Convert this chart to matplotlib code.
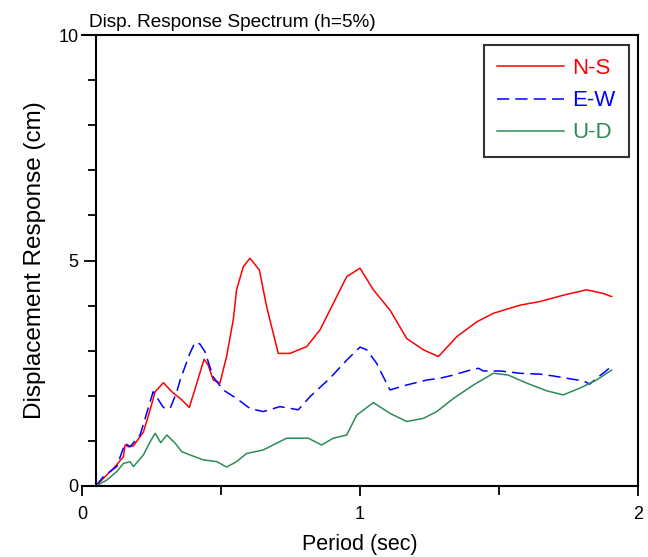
import matplotlib
matplotlib.use("Agg")
import matplotlib.pyplot as plt
from matplotlib.ticker import FixedLocator

plt.rcParams['font.family'] = ['Liberation Sans', 'DejaVu Sans']

# Period (sec) and displacement response (cm)
ns_t = [0.05, 0.077, 0.119, 0.149, 0.155, 0.167, 0.185, 0.221, 0.245, 0.263, 0.293,
        0.323, 0.359, 0.386, 0.413, 0.439, 0.454, 0.472, 0.496, 0.52, 0.544, 0.556,
        0.58, 0.604, 0.638, 0.664, 0.706, 0.748, 0.808, 0.856, 0.904, 0.952, 1.0,
        1.048, 1.108, 1.168, 1.228, 1.282, 1.348, 1.42, 1.48, 1.576, 1.647, 1.731,
        1.815, 1.875, 1.905]
ns_d = [0.0, 0.17, 0.43, 0.65, 0.91, 0.87, 0.89, 1.2, 1.69, 2.09, 2.29,
        2.09, 1.91, 1.74, 2.28, 2.81, 2.68, 2.35, 2.28, 2.87, 3.68, 4.35,
        4.86, 5.05, 4.79, 3.98, 2.94, 2.94, 3.09, 3.46, 4.05, 4.64, 4.83,
        4.35, 3.9, 3.27, 3.02, 2.87, 3.31, 3.64, 3.83, 4.01, 4.09, 4.23,
        4.35, 4.27, 4.2]

ew_t = [0.05, 0.077, 0.125, 0.155, 0.173, 0.209, 0.256, 0.293, 0.317, 0.341, 0.353,
        0.388, 0.406, 0.424, 0.442, 0.472, 0.508, 0.556, 0.604, 0.652, 0.712,
        0.778, 0.82, 0.892, 0.952, 1.0, 1.024, 1.06, 1.084, 1.108, 1.168, 1.24,
        1.288, 1.336, 1.396, 1.426, 1.444, 1.504, 1.576, 1.647, 1.695, 1.743,
        1.803, 1.827, 1.851, 1.881, 1.905]
ew_d = [0.0, 0.21, 0.43, 0.95, 0.87, 1.13, 2.09, 1.74, 1.72, 2.09, 2.35,
        2.94, 3.18, 3.15, 2.98, 2.42, 2.13, 1.94, 1.72, 1.65, 1.76,
        1.69, 1.98, 2.39, 2.79, 3.08, 3.02, 2.72, 2.42, 2.13, 2.24, 2.35,
        2.39, 2.46, 2.57, 2.61, 2.55, 2.55, 2.5, 2.48, 2.44, 2.39,
        2.33, 2.26, 2.39, 2.53, 2.66]

ud_t = [0.05, 0.089, 0.125, 0.149, 0.173, 0.185, 0.221, 0.245, 0.263, 0.283, 0.305,
        0.335, 0.359, 0.388, 0.436, 0.485, 0.52, 0.556, 0.592, 0.652, 0.736,
        0.814, 0.862, 0.904, 0.952, 0.988, 1.048, 1.108, 1.168, 1.228, 1.276,
        1.336, 1.408, 1.48, 1.533, 1.6, 1.672, 1.731, 1.791, 1.851, 1.905]
ud_d = [0.0, 0.13, 0.32, 0.5, 0.54, 0.43, 0.69, 0.98, 1.17, 0.96, 1.13,
        0.95, 0.76, 0.69, 0.58, 0.54, 0.42, 0.54, 0.72, 0.8, 1.06,
        1.06, 0.91, 1.06, 1.13, 1.57, 1.85, 1.61, 1.43, 1.5, 1.65,
        1.94, 2.24, 2.5, 2.46, 2.28, 2.11, 2.02, 2.17, 2.35, 2.57]

labels = ['N-S', 'E-W', 'U-D']
colors = ['#ff0000', '#0000ff', '#2e8b57']
x_major = [0, 1, 2]
x_minor = [0.5, 1.5]
y_major = [0, 5, 10]
y_minor = [1, 2, 3, 4, 6, 7, 8, 9]

fig = plt.figure(figsize=(6.48, 5.57), dpi=100)
ax = fig.add_axes([82/648, 1 - 486/557, (638 - 82)/648, (486 - 35)/557])

ax.plot(ns_t, ns_d, color=colors[0], lw=1.1, label=labels[0])
ax.plot(ew_t, ew_d, color=colors[1], lw=1.1, dashes=(8, 4), label=labels[1])
ax.plot(ud_t, ud_d, color=colors[2], lw=1.1, label=labels[2])

ax.set_xlim(0, 2)
ax.set_ylim(0, 10)
ax.spines['left'].set_position(('data', 0.05))
for s in ax.spines.values():
    s.set_linewidth(1.5)

ax.xaxis.set_major_locator(FixedLocator(x_major))
ax.xaxis.set_minor_locator(FixedLocator(x_minor))
ax.yaxis.set_major_locator(FixedLocator(y_major))
ax.yaxis.set_minor_locator(FixedLocator(y_minor))
ax.tick_params(axis='y', which='major', direction='out', length=8.5, width=1.3,
               labelsize=13, pad=4)
ax.tick_params(axis='y', which='minor', direction='out', length=6, width=1.3)
ax.tick_params(axis='x', which='major', direction='out', length=7, width=1.3,
               labelsize=13, pad=7.5)
ax.tick_params(axis='x', which='minor', direction='out', length=6.5, width=1.3)

ax.set_xlabel('Period (sec)', fontsize=15.5, labelpad=8)
ax.set_ylabel('Displacement Response (cm)', fontsize=17.5, labelpad=9)
ax.text(0.012, 1.008, 'Disp. Response Spectrum (h=5%)', transform=ax.transAxes,
        fontsize=13.7, ha='left', va='bottom')

leg = ax.legend(loc='upper right', bbox_to_anchor=(0.984, 0.978), fontsize=16,
                frameon=True, fancybox=False, handlelength=3.0, handletextpad=0.4,
                labelspacing=0.5, borderpad=0.6, borderaxespad=0)
leg.get_frame().set_edgecolor('black')
leg.get_frame().set_linewidth(1.5)
for t, c in zip(leg.get_texts(), colors):
    t.set_color(c)

fig.savefig('out.png', dpi=100)
